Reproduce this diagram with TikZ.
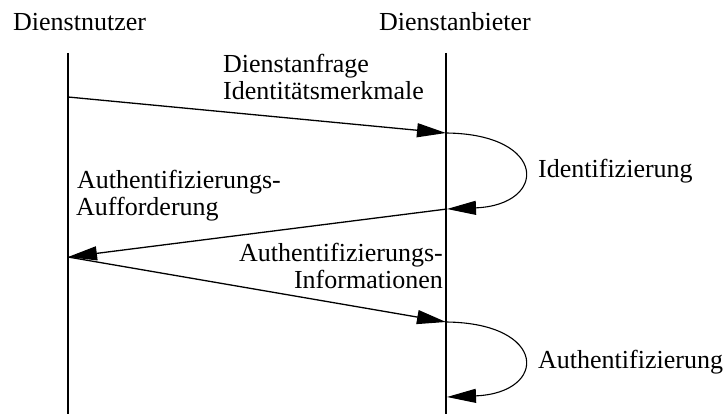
\documentclass[tikz,border=0pt]{standalone}
\usepackage{fontspec}
\setmainfont{Liberation Serif}
\usetikzlibrary{arrows.meta}
\begin{document}
\begin{tikzpicture}[x=1pt,y=-1pt,
  lbl/.style={inner sep=0pt, anchor=base west, font=\fontsize{26}{27}\selectfont},
  lblr/.style={lbl, anchor=base east},
  lifeline/.style={line width=2pt},
  tip/.style={-{Triangle[length=29pt,width=14pt]}},
  msg/.style={line width=1.3pt, tip},
  selfmsg/.style={line width=1.1pt, tip}]
\useasboundingbox (0,0) rectangle (726,414);

% participants
\node[lbl] (user) at (13,31) {Dienstnutzer};
\node[lbl] (prov) at (379,31) {Dienstanbieter};

% lifelines
\coordinate (uTop) at (68,53);
\coordinate (uBot) at (68,414);
\coordinate (pTop) at (446,53);
\coordinate (pBot) at (446,414);
\draw[lifeline] (uTop) -- (uBot);
\draw[lifeline] (pTop) -- (pBot);

% message end points
\coordinate (u1) at (68,97);
\coordinate (p1) at (446,133);
\coordinate (p2) at (447,209);
\coordinate (u2) at (68,257);
\coordinate (p3) at (446,322);
\coordinate (p4) at (447,397);

% service request
\draw[msg] (u1) -- (p1);
\node[lbl] (req1) at (223,73) {Dienstanfrage};
\node[lbl] (req2) at (223,100) {Identitätsmerkmale};

% identification (self message)
\draw[selfmsg] (p1) .. controls (548,134) and (548,205) .. (p2);
\node[lbl] (ident) at (538,178) {Identifizierung};

% authentication request
\draw[msg] (p2) -- (u2);
\node[lbl] (areq1) at (77,189) {Authentifizierungs-};
\node[lbl] (areq2) at (76,216) {Aufforderung};

% authentication information
\draw[msg] (u2) -- (p3);
\node[lblr] (ainf1) at (443,262) {Authentifizierungs-};
\node[lblr] (ainf2) at (443,289) {Informationen};

% authentication (self message)
\draw[selfmsg] (p3) .. controls (548,323) and (548,393) .. (p4);
\node[lbl] (auth) at (538,368) {Authentifizierung};
\end{tikzpicture}
\end{document}
